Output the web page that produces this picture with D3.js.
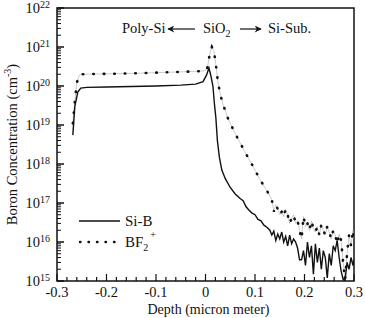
<!DOCTYPE html>
<html><head><meta charset="utf-8">
<script src="https://cdn.jsdelivr.net/npm/d3@7"></script>
<style>body{margin:0;background:#fff}svg{display:block}text{font-family:"Liberation Serif","Times New Roman",serif;fill:#111}</style>
</head><body><svg id="c" width="365" height="318"></svg>
<script>
const xTicks = [-0.3, -0.2, -0.1, 0, 0.1, 0.2, 0.3];
const xTickLabels = ["-0.3", "-0.2", "-0.1", "0", "0.1", "0.2", "0.3"];
const yExponents = [15, 16, 17, 18, 19, 20, 21, 22];
const seriesNames = ["Si-B", "BF2+"];
const siBDepth = [-0.268,-0.264,-0.258,-0.252,-0.24,-0.2,-0.15,-0.1,-0.05,-0.02,-0.005,0.002,0.007,0.011,0.015,0.018,0.021,0.024,0.028,0.033,0.04,0.05,0.06,0.07,0.076,0.082,0.088,0.094,0.1,0.106,0.112,0.118,0.124,0.13,0.134,0.138,0.142,0.146,0.15,0.154,0.158,0.162,0.166,0.17,0.174,0.178,0.182,0.186,0.19,0.194,0.198,0.202,0.206,0.21,0.214,0.218,0.222,0.226,0.23,0.234,0.238,0.242,0.246,0.25,0.254,0.258,0.262,0.266,0.27,0.274,0.278,0.282,0.286,0.29,0.294,0.298,0.3];
const siBConc = [5.5e18,3e19,7e19,8.8e19,9.2e19,9.4e19,9.7e19,1.0e20,1.05e20,1.12e20,1.3e20,1.9e20,2.9e20,1.8e20,1.0e20,3.5e19,1.5e19,4e18,1.5e18,7e17,4.2e17,2.5e17,1.7e17,1.3e17,1.15e17,8e16,6.5e16,5.5e16,5e16,3.8e16,3.5e16,2.7e16,2.4e16,2e16,1.5e16,1.9e16,1.1e16,1.6e16,1.2e16,1.8e16,1.0e16,1.4e16,8e15,1.5e16,9e15,1.2e16,1.0e16,7e15,3.5e15,3.5e15,6e15,2.5e15,1e16,4e15,8e15,1.5e15,9e15,3e15,7e15,2e15,6e15,4e15,1.2e15,5e15,2.5e15,8e15,6e15,1.1e16,4e15,1.8e15,1.1e15,1.05e15,3e15,2e15,4e15,2.5e15,3.5e15];
const bf2Depth = [-0.268,-0.264,-0.26,-0.255,-0.25,-0.2,-0.15,-0.1,-0.05,-0.01,0.0,0.004,0.009,0.013,0.017,0.021,0.025,0.03,0.035,0.046,0.06,0.07,0.08,0.09,0.1,0.11,0.12,0.128,0.134,0.138,0.142,0.146,0.15,0.154,0.158,0.162,0.166,0.17,0.174,0.178,0.182,0.186,0.19,0.194,0.198,0.202,0.206,0.21,0.214,0.218,0.222,0.226,0.23,0.234,0.238,0.242,0.246,0.25,0.254,0.258,0.262,0.266,0.27,0.274,0.278,0.282,0.286,0.29,0.294,0.298,0.3];
const bf2Conc = [1.1e19,4e19,1.2e20,1.9e20,2.0e20,2.05e20,2.1e20,2.2e20,2.3e20,2.4e20,2.5e20,3e20,7e20,1.0e21,8e20,3.5e20,1.3e20,6e19,3.5e19,1.4e19,6e18,3.5e18,2e18,1.2e18,7e17,4e17,2.5e17,1.7e17,1.2e17,6e16,9e16,7e16,5e16,6e16,4.5e16,7e16,5e16,3e16,4e16,5e16,3e16,3.5e16,2e16,1.2e16,4.5e16,2.5e16,3e16,2e16,3.5e16,2.2e16,1.8e16,2.5e16,1.5e16,2.8e16,2e16,1.5e16,2.5e16,1.8e16,1.2e16,2e16,1.5e16,9e15,1.6e16,1.1e16,3e15,1.1e15,5e15,1.5e16,8e15,2e16,1.2e16];

const svg = d3.select("#c");
const L = 57, R = 354, T = 8, B = 281;
const x = d3.scaleLinear().domain([-0.3, 0.3]).range([L, R]);
const y = d3.scaleLog().domain([1e15, 1e22]).range([B, T]);

const g = svg.append("g");
const xMinor = d3.range(-0.3, 0.3001, 0.02).map(v => +v.toFixed(3));
g.selectAll(".xm").data(xMinor).join("line")
  .attr("x1", d => x(d)).attr("x2", d => x(d))
  .attr("y1", B).attr("y2", d => (Math.abs(Math.round(d*10) - d*10) < 1e-6) ? B - 7 : B - 4)
  .attr("stroke", "#111").attr("stroke-width", 1.2);
const yMinor = [];
yExponents.forEach(e => { if (e < 22) for (let m = 2; m <= 9; m++) yMinor.push(m * Math.pow(10, e)); });
g.selectAll(".ym").data(yMinor).join("line")
  .attr("x1", L).attr("x2", L + 4)
  .attr("y1", d => y(d)).attr("y2", d => y(d))
  .attr("stroke", "#111").attr("stroke-width", 1);
g.selectAll(".yM").data(yExponents).join("line")
  .attr("x1", L).attr("x2", L + 7)
  .attr("y1", d => y(Math.pow(10, d))).attr("y2", d => y(Math.pow(10, d)))
  .attr("stroke", "#111").attr("stroke-width", 1.5);

svg.append("rect").attr("x", L).attr("y", T).attr("width", R - L).attr("height", B - T)
  .attr("fill", "none").attr("stroke", "#111").attr("stroke-width", 1.5);

svg.selectAll(".xl").data(xTicks).join("text")
  .attr("x", d => x(d)).attr("y", B + 16).attr("text-anchor", "middle")
  .attr("font-size", 14.5).text((d, i) => xTickLabels[i]);

const yl = svg.selectAll(".yl").data(yExponents).join("text")
  .attr("x", 50).attr("y", d => y(Math.pow(10, d)) + 5).attr("text-anchor", "end").attr("font-size", 14.5);
yl.append("tspan").text("10");
yl.append("tspan").attr("dy", -5).attr("font-size", 10).text(d => d);

svg.append("text").attr("x", (L + R) / 2 + 3).attr("y", 314).attr("text-anchor", "middle")
  .attr("font-size", 14).text("Depth (micron meter)");
const yt = svg.append("text").attr("transform", `translate(17,${(T + B) / 2}) rotate(-90)`)
  .attr("text-anchor", "middle").attr("font-size", 14.5);
yt.append("tspan").text("Boron Concentration (cm");
yt.append("tspan").attr("dy", -6).attr("font-size", 10).text("-3");
yt.append("tspan").attr("dy", 6).text(")");

const line = d3.line().x(d => x(d[0])).y(d => y(d[1]));
const siB = siBDepth.map((d, i) => [d, siBConc[i]]);
const bf2 = bf2Depth.map((d, i) => [d, bf2Conc[i]]);
svg.append("clipPath").attr("id", "pc").append("rect")
  .attr("x", L).attr("y", T).attr("width", R - L).attr("height", B - T);
const pg = svg.append("g").attr("clip-path", "url(#pc)");
pg.append("path").datum(bf2).attr("d", line).attr("fill", "none").attr("stroke", "#aaa").attr("stroke-width", 0.6);
pg.append("path").datum(bf2).attr("d", line).attr("fill", "none").attr("stroke", "#111")
  .attr("stroke-width", 2.6).attr("stroke-linecap", "round").attr("stroke-dasharray", "0.5,10");
pg.append("path").datum(siB).attr("d", line).attr("fill", "none").attr("stroke", "#111").attr("stroke-width", 1.4);

svg.append("line").attr("x1", 79).attr("x2", 120).attr("y1", 221).attr("y2", 221).attr("stroke", "#111").attr("stroke-width", 1.4);
svg.append("line").attr("x1", 80).attr("x2", 121).attr("y1", 242).attr("y2", 242).attr("stroke", "#111")
  .attr("stroke-width", 2.4).attr("stroke-linecap", "round").attr("stroke-dasharray", "0.5,8");
svg.append("text").attr("x", 125).attr("y", 226).attr("font-size", 15).text(seriesNames[0]);
const lt = svg.append("text").attr("x", 125).attr("y", 247).attr("font-size", 15);
lt.append("tspan").text("BF");
lt.append("tspan").attr("dy", 4).attr("font-size", 10).text("2");
lt.append("tspan").attr("dy", -13).attr("dx", 2).attr("font-size", 10).text("+");

svg.append("text").attr("x", 122).attr("y", 33).attr("font-size", 14.5).text("Poly-Si");
const so = svg.append("text").attr("x", 203).attr("y", 33).attr("font-size", 14.5);
so.append("tspan").text("SiO");
so.append("tspan").attr("dy", 4).attr("font-size", 10).text("2");
svg.append("text").attr("x", 268).attr("y", 33).attr("font-size", 14.5).text("Si-Sub.");
const defs = svg.append("defs");
defs.append("marker").attr("id", "ah").attr("viewBox", "0 0 10 10").attr("refX", 9).attr("refY", 5)
  .attr("markerWidth", 10).attr("markerHeight", 7).attr("markerUnits", "userSpaceOnUse").attr("orient", "auto")
  .append("path").attr("d", "M0,0 L10,5 L0,10 L3,5 Z").attr("fill", "#111");
svg.append("line").attr("x1", 195).attr("x2", 168).attr("y1", 29).attr("y2", 29).attr("stroke", "#111").attr("stroke-width", 1.2).attr("marker-end", "url(#ah)");
svg.append("line").attr("x1", 240).attr("x2", 261).attr("y1", 29).attr("y2", 29).attr("stroke", "#111").attr("stroke-width", 1.2).attr("marker-end", "url(#ah)");
</script></body></html>
